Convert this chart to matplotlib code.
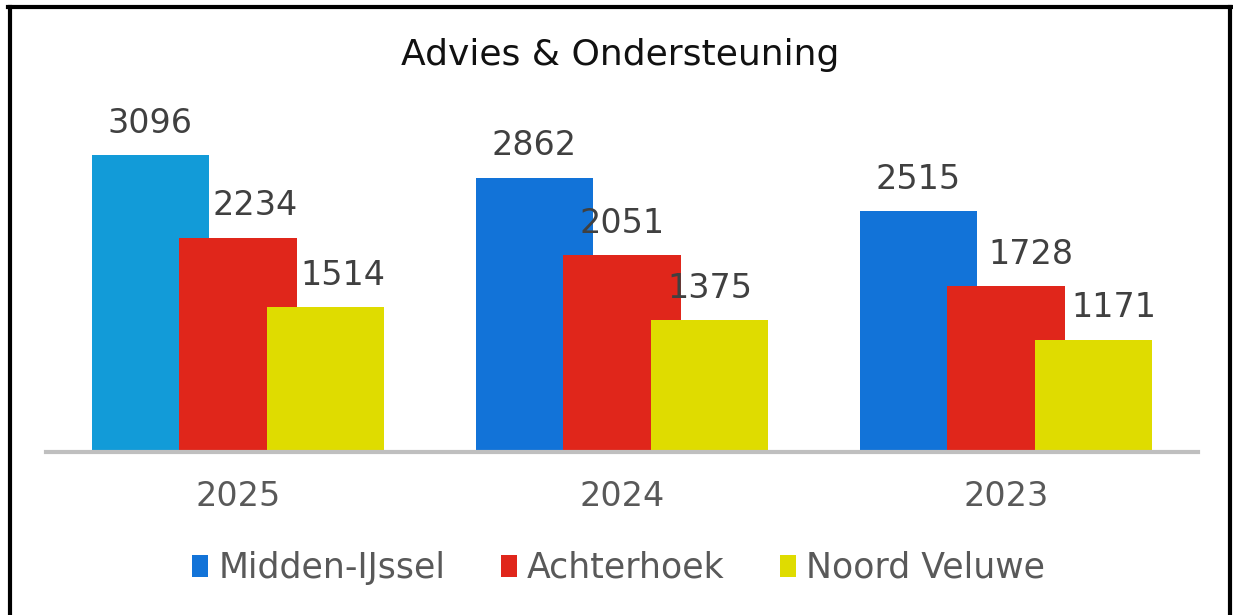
import matplotlib.pyplot as plt
import numpy as np
from matplotlib.patches import Patch
from matplotlib.lines import Line2D

TITLE = "Advies & Ondersteuning"
YEARS = ["2025", "2024", "2023"]
SERIES = ["Midden-IJssel", "Achterhoek", "Noord Veluwe"]
MIDDEN_IJSSEL = [3096, 2862, 2515]
ACHTERHOEK = [2234, 2051, 1728]
NOORD_VELUWE = [1514, 1375, 1171]

BLUE = "#1273d8"
BLUE_LIGHT = "#129bd8"
RED = "#e0261b"
YELLOW = "#dfdc00"
LABEL_GREY = "#404040"

# first Midden-IJssel bar is drawn in the lighter blue in the original
BAR_COLORS = [
    [BLUE_LIGHT, BLUE, BLUE],
    [RED, RED, RED],
    [YELLOW, YELLOW, YELLOW],
]
LEGEND_COLORS = [BLUE, RED, YELLOW]
# horizontal nudges (points) of the value labels, as in the original
LABEL_SHIFT = [
    [0, 0, 0],
    [12, 0, 18],
    [12, 0, 14],
]

W, H = 1233, 615
fig = plt.figure(figsize=(W / 100, H / 100), dpi=100)
ax = fig.add_axes([46 / W, (H - 452) / H, 1152 / W, 352 / H])

x = np.arange(len(YEARS))
width = 0.305
step = 0.229
values = [MIDDEN_IJSSEL, ACHTERHOEK, NOORD_VELUWE]

for i, vals in enumerate(values):
    pos = x + (i - 1) * step
    ax.bar(pos, vals, width=width, color=BAR_COLORS[i], zorder=2 + i)
    for j, (p, v) in enumerate(zip(pos, vals)):
        ax.annotate(str(v), (p, v), xytext=(LABEL_SHIFT[i][j], 11),
                    textcoords="offset points", ha="center", va="bottom",
                    fontsize=24, color=LABEL_GREY)

ax.set_xlim(-0.5, 2.5)
ax.set_ylim(0, 352 / 0.0959)
ax.set_xticks(x)
ax.set_xticklabels(YEARS, fontsize=24, color="#595959")
ax.tick_params(axis="x", length=0, pad=20)
ax.set_yticks([])
for s in ["top", "right", "left"]:
    ax.spines[s].set_visible(False)
ax.spines["bottom"].set_color("#bfbfbf")
ax.spines["bottom"].set_linewidth(3)
ax.spines["bottom"].set_zorder(10)

fig.text(0.503, (H - 55) / H, TITLE, ha="center", va="center", fontsize=26, color="#111111")

handles = [Patch(facecolor=c, edgecolor="none") for c in LEGEND_COLORS]
fig.legend(handles, SERIES, loc="center", bbox_to_anchor=(0.502, (H - 568) / H),
           ncol=3, frameon=False, fontsize=25, labelcolor="#595959",
           handlelength=0.45, handleheight=0.6, handletextpad=0.3, columnspacing=1.6)

# frame of the screenshot
fig.add_artist(Line2D([9.5 / W, 9.5 / W], [0, 1 - 7 / H], transform=fig.transFigure,
                      color="black", lw=3))
fig.add_artist(Line2D([8 / W, 1], [1 - 7 / H, 1 - 7 / H], transform=fig.transFigure,
                      color="black", lw=3))
fig.add_artist(Line2D([1229.5 / W, 1229.5 / W], [0, 1 - 7 / H], transform=fig.transFigure,
                      color="black", lw=3))

fig.savefig("out.png", dpi=100)
